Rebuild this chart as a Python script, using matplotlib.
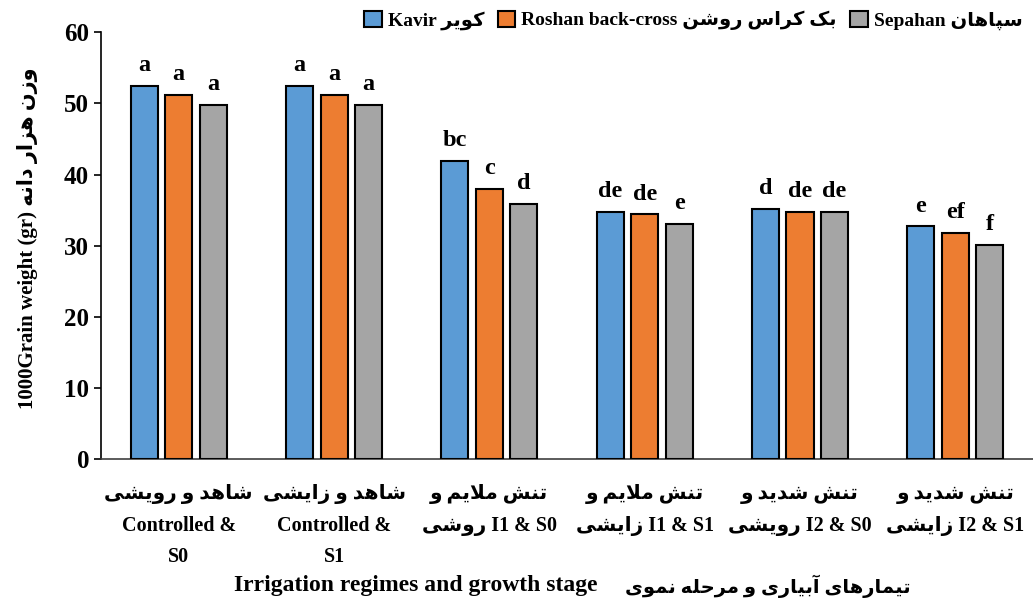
import matplotlib
matplotlib.use('Agg')
import matplotlib.pyplot as plt
import numpy as np

# data
kavir = [52.5, 52.5, 41.9, 34.8, 35.2, 32.7]
roshan = [51.2, 51.2, 38.0, 34.4, 34.8, 31.8]
sepahan = [49.8, 49.8, 35.9, 33.1, 34.8, 30.1]
kavir_sig = ['a', 'a', 'bc', 'de', 'd', 'e']
roshan_sig = ['a', 'a', 'c', 'de', 'de', 'ef']
sepahan_sig = ['a', 'a', 'd', 'e', 'de', 'f']
cat_fa = ['شاهد و رویشی', 'شاهد و زایشی', 'تنش ملایم و', 'تنش ملایم و', 'تنش شدید و', 'تنش شدید و']
cat_fa2 = ['', '', 'روشی', 'زایشی', 'رویشی', 'زایشی']
cat_en = ['Controlled &\nS0', 'Controlled &\nS1', 'I1 & S0', 'I1 & S1', 'I2 & S0', 'I2 & S1']
series_en = ['Kavir', 'Roshan back-cross', 'Sepahan']
series_fa = ['کویر', 'بک کراس روشن', 'سپاهان']
ylabel_en = '1000Grain weight (gr)'
ylabel_fa = 'وزن هزار دانه'
xlabel_en = 'Irrigation regimes and growth stage'
xlabel_fa = 'تیمارهای آبیاری و مرحله نموی'

# simple persian shaping (matplotlib does no arabic shaping)
FORMS = {
    'ا': ('\uFE8D', '\uFE8E'),
    'آ': ('\uFE81', '\uFE82'),
    'د': ('\uFEA9', '\uFEAA'),
    'ر': ('\uFEAD', '\uFEAE'),
    'ز': ('\uFEAF', '\uFEB0'),
    'و': ('\uFEED', '\uFEEE'),
    'ب': ('\uFE8F', '\uFE90', '\uFE91', '\uFE92'),
    'پ': ('\uFB56', '\uFB57', '\uFB58', '\uFB59'),
    'ت': ('\uFE95', '\uFE96', '\uFE97', '\uFE98'),
    'ح': ('\uFEA1', '\uFEA2', '\uFEA3', '\uFEA4'),
    'س': ('\uFEB1', '\uFEB2', '\uFEB3', '\uFEB4'),
    'ش': ('\uFEB5', '\uFEB6', '\uFEB7', '\uFEB8'),
    'ک': ('\uFB8E', '\uFB8F', '\uFB90', '\uFB91'),
    'ل': ('\uFEDD', '\uFEDE', '\uFEDF', '\uFEE0'),
    'م': ('\uFEE1', '\uFEE2', '\uFEE3', '\uFEE4'),
    'ن': ('\uFEE5', '\uFEE6', '\uFEE7', '\uFEE8'),
    'ه': ('\uFEE9', '\uFEEA', '\uFEEB', '\uFEEC'),
    'ی': ('\uFBFC', '\uFBFD', '\uFBFE', '\uFBFF'),
}
LAM_ALEF = {'ا': ('\uFEFB', '\uFEFC'), 'آ': ('\uFEF5', '\uFEF6')}


def dual(c):
    return c in FORMS and len(FORMS[c]) == 4


def fa(s):
    out = []
    i = 0
    while i < len(s):
        c = s[i]
        if c not in FORMS:
            out.append(c)
            i += 1
            continue
        jp = i > 0 and dual(s[i - 1])
        if c == 'ل' and i + 1 < len(s) and s[i + 1] in LAM_ALEF:
            out.append(LAM_ALEF[s[i + 1]][1 if jp else 0])
            i += 2
            continue
        jn = dual(c) and i + 1 < len(s) and s[i + 1] in FORMS
        f = FORMS[c]
        if jp and jn:
            out.append(f[3])
        elif jp:
            out.append(f[1])
        elif jn:
            out.append(f[2])
        else:
            out.append(f[0])
        i += 1
    return ''.join(reversed(out))


plt.rcParams['font.family'] = ['Liberation Serif', 'DejaVu Sans']
plt.rcParams['font.weight'] = 'bold'

colors = ['#5B9BD5', '#ED7D31', '#A5A5A5']

fig = plt.figure(figsize=(10.33, 6), dpi=100)
ax = fig.add_axes([0.0978, 0.2345, 0.9022, 0.712])

x = np.arange(len(kavir))
w = 0.174
pitch = 0.222
for k, (vals, sig) in enumerate([(kavir, kavir_sig), (roshan, roshan_sig), (sepahan, sepahan_sig)]):
    pos = x + (k - 1) * pitch
    ax.bar(pos, vals, width=w, color=colors[k], edgecolor='black', linewidth=1.5,
           label=series_en[k] + ' ' + fa(series_fa[k]), zorder=3)
    for px, v, s in zip(pos, vals, sig):
        ax.annotate(s, (px, v), xytext=(0, 7), textcoords='offset points',
                    ha='center', va='bottom', fontsize=17.5, fontweight='bold')

ax.set_xlim(-0.5, 5.5)
ax.set_ylim(0, 60)
ax.set_yticks(range(0, 61, 10))
ax.tick_params(axis='y', labelsize=18, length=5, width=1.2, direction='out')
ax.tick_params(axis='x', length=0, pad=18)

labels = []
for i in range(len(cat_en)):
    if cat_fa2[i]:
        labels.append(fa(cat_fa[i]) + '\n' + fa(cat_fa2[i]) + ' ' + cat_en[i])
    else:
        labels.append(fa(cat_fa[i]) + '\n' + cat_en[i])
ax.set_xticks(x)
ax.set_xticklabels(labels, fontsize=14.5, fontweight='bold', linespacing=1.75)

for sp in ['top', 'right']:
    ax.spines[sp].set_visible(False)
ax.spines['left'].set_linewidth(1.2)
ax.spines['bottom'].set_color('#404040')
ax.spines['bottom'].set_linewidth(1.2)

fig.text(0.027, 1 - 238 / 600, ylabel_en + ' ' + fa(ylabel_fa), rotation=90,
         ha='center', va='center', fontsize=15, fontweight='bold')
fig.text(597 / 1033, 1 - 586 / 600, xlabel_en, ha='right', va='center',
         fontsize=17, fontweight='bold')
fig.text(625 / 1033, 1 - 586 / 600, fa(xlabel_fa), ha='left', va='center',
         fontsize=14, fontweight='bold')

fig.legend(loc='upper right', bbox_to_anchor=(1.0, 1.0), ncol=3, frameon=False,
           fontsize=14, handlelength=0.9, handleheight=0.9, handletextpad=0.3,
           columnspacing=0.7, borderaxespad=0.15)

fig.savefig('out.png', dpi=100)
